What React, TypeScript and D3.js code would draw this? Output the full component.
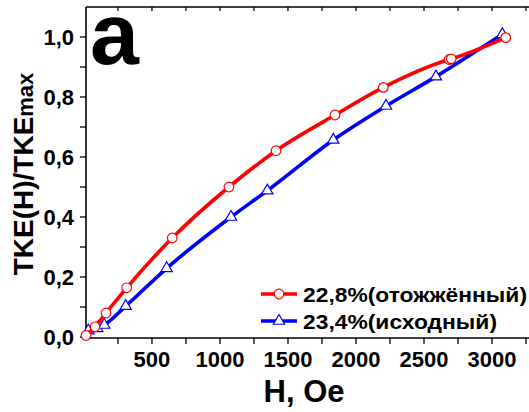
import React, { useEffect, useRef } from 'react';
import * as d3 from 'd3';

// 22,8% annealed sample
const redH = [15, 81, 162, 314, 649, 1066, 1412, 1846, 2201, 2685, 2700, 3101];
const redV = [0.005, 0.034, 0.08, 0.164, 0.33, 0.5, 0.621, 0.74, 0.832, 0.925, 0.927, 0.998];
// 23,4% initial sample
const blueH = [32, 98, 149, 307, 608, 1081, 1348, 1833, 2221, 2588, 3076];
const blueV = [0.021, 0.029, 0.04, 0.103, 0.229, 0.4, 0.488, 0.657, 0.77, 0.868, 1.009];

const xMajor = [500, 1000, 1500, 2000, 2500, 3000];
const xMinor = [250, 750, 1250, 1750, 2250, 2750, 3250];
const yMajor = [0, 0.2, 0.4, 0.6, 0.8, 1.0];
const yMinor = [0.1, 0.3, 0.5, 0.7, 0.9];

const legendLabels = ['22,8%(отожжённый)', '23,4%(исходный)'];

const W = 529;
const H = 412;
const FONT = "Arial, 'Liberation Sans', sans-serif";

export default function App() {
  const svgRef = useRef<SVGSVGElement>(null);

  useEffect(() => {
    const svg = d3.select(svgRef.current);
    svg.selectAll('*').remove();

    const left = 86, right = 529, top = 7, bottom = 337;
    const x = d3.scaleLinear().domain([15, 3272]).range([left, right]);
    const y = d3.scaleLinear().domain([0, 1.1]).range([bottom, top]);

    const g = svg.append('g');

    // frame (right side is cut off by the picture edge)
    g.append('line').attr('x1', left).attr('x2', right).attr('y1', bottom + 1).attr('y2', bottom + 1)
      .attr('stroke', '#000').attr('stroke-width', 1.6);
    g.append('line').attr('x1', left).attr('x2', right).attr('y1', top).attr('y2', top)
      .attr('stroke', '#000').attr('stroke-width', 1.6);
    g.append('line').attr('x1', left).attr('x2', left).attr('y1', top).attr('y2', bottom + 1)
      .attr('stroke', '#000').attr('stroke-width', 1.6);

    // bottom ticks
    const allX = [...xMajor, ...xMinor];
    g.selectAll('.xt').data(allX).join('line')
      .attr('x1', d => x(d)).attr('x2', d => x(d))
      .attr('y1', bottom + 1).attr('y2', bottom + 7)
      .attr('stroke', '#000').attr('stroke-width', 1.3);
    // top ticks (inward)
    g.selectAll('.xtt').data(allX).join('line')
      .attr('x1', d => x(d)).attr('x2', d => x(d))
      .attr('y1', top).attr('y2', top + 4)
      .attr('stroke', '#000').attr('stroke-width', 1.3);
    g.selectAll('.xl').data(xMajor).join('text')
      .attr('x', d => x(d)).attr('y', 367)
      .attr('text-anchor', 'middle')
      .attr('font-family', FONT).attr('font-weight', 'bold').attr('font-size', 22)
      .text(d => String(d));

    // left ticks
    g.selectAll('.yt').data([...yMajor, ...yMinor]).join('line')
      .attr('x1', left - 6).attr('x2', left)
      .attr('y1', d => y(d)).attr('y2', d => y(d))
      .attr('stroke', '#000').attr('stroke-width', 1.3);
    g.selectAll('.yl').data(yMajor).join('text')
      .attr('x', 74).attr('y', d => y(d) + 7.5)
      .attr('text-anchor', 'end')
      .attr('font-family', FONT).attr('font-weight', 'bold').attr('font-size', 22)
      .text(d => d3.format('.1f')(d).replace('.', ','));

    // axis titles
    g.append('text').attr('x', 304).attr('y', 402).attr('text-anchor', 'middle')
      .attr('font-family', FONT).attr('font-weight', 'bold').attr('font-size', 31)
      .text('H, Oe');
    const yt = g.append('text')
      .attr('transform', `translate(33,${174}) rotate(-90)`)
      .attr('text-anchor', 'middle')
      .attr('font-family', FONT).attr('font-weight', 'bold').attr('font-size', 28);
    yt.append('tspan').text('TKE(H)/TKE');
    yt.append('tspan').attr('font-size', 22).text('max');

    // panel letter
    g.append('text').attr('x', 90).attr('y', 64)
      .attr('font-family', FONT).attr('font-weight', 'bold').attr('font-size', 88)
      .text('a');

    const line = d3.line<[number, number]>()
      .x(d => x(d[0])).y(d => y(d[1]))
      .curve(d3.curveMonotoneX);

    const blue: [number, number][] = blueH.map((h, i) => [h, blueV[i]]);
    const red: [number, number][] = redH.map((h, i) => [h, redV[i]]);

    const tri = d3.symbol().type(d3.symbolTriangle).size(55);

    g.append('path').attr('d', line(blue)).attr('fill', 'none')
      .attr('stroke', '#0000ff').attr('stroke-width', 3.6);
    g.selectAll('.bm').data(blue).join('path')
      .attr('d', tri)
      .attr('transform', d => `translate(${x(d[0])},${y(d[1])})`)
      .attr('fill', '#fff').attr('stroke', '#0000ff').attr('stroke-width', 1.2);

    g.append('path').attr('d', line(red)).attr('fill', 'none')
      .attr('stroke', '#ff0000').attr('stroke-width', 3.6);
    g.selectAll('.rm').data(red).join('circle')
      .attr('cx', d => x(d[0])).attr('cy', d => y(d[1])).attr('r', 4.8)
      .attr('fill', '#fff').attr('stroke', '#ff0000').attr('stroke-width', 1.2);

    // legend
    const colors = ['#ff0000', '#0000ff'];
    const widths = [224, 194];
    legendLabels.forEach((lab, i) => {
      const ly = 294 + i * 27;
      g.append('line').attr('x1', 261).attr('x2', 297).attr('y1', ly).attr('y2', ly)
        .attr('stroke', colors[i]).attr('stroke-width', 3.6);
      if (i === 0) {
        g.append('circle').attr('cx', 279).attr('cy', ly).attr('r', 4.8)
          .attr('fill', '#fff').attr('stroke', colors[i]).attr('stroke-width', 1.2);
      } else {
        g.append('path').attr('d', tri).attr('transform', `translate(279,${ly})`)
          .attr('fill', '#fff').attr('stroke', colors[i]).attr('stroke-width', 1.2);
      }
      g.append('text').attr('x', 303).attr('y', ly + 7.5)
        .attr('font-family', FONT).attr('font-weight', 'bold').attr('font-size', 21)
        .attr('textLength', widths[i]).attr('lengthAdjust', 'spacingAndGlyphs')
        .text(lab);
    });
  }, []);

  return (
    <svg ref={svgRef} width={W} height={H}
      style={{ position: 'absolute', left: 0, top: 0, background: '#fff' }} />
  );
}
